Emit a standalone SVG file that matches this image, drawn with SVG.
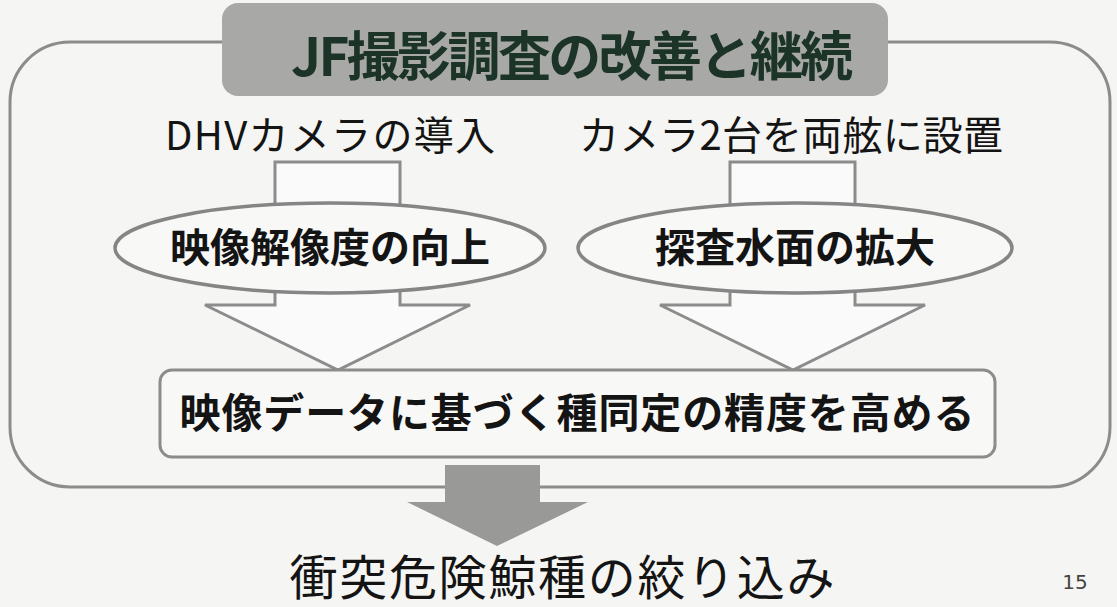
<svg xmlns="http://www.w3.org/2000/svg" width="1117" height="607" viewBox="0 0 1117 607">
<style>
.frame{fill:none;stroke:#8c8c8c;stroke-width:3}
.hollow{fill:#fafafa;stroke:#8c8c8c;stroke-width:3;stroke-linejoin:miter}
.ell{fill:#f8f8f7;stroke:#858585;stroke-width:3.5}
.t{font-family:"Noto Sans CJK JP","Noto Sans",sans-serif;fill:#141414}
.b{font-weight:bold}
</style>
<rect width="1117" height="607" fill="#f5f5f3"/>
<g id="frame">
<rect class="frame" x="10" y="42" width="1100" height="445" rx="60" ry="60"/>
</g>
<g id="title">
<rect x="222" y="3" width="666" height="93" rx="16" fill="#a8a9a7"/>
<text class="t b" x="572" y="76" font-size="53" text-anchor="middle" textLength="562" lengthAdjust="spacing" style="fill:#1c3428">JF撮影調査の改善と継続</text>
</g>
<g id="connectors">
<polygon class="hollow" points="275,162 400,162 400,305 470,305 338,370 205,305 275,305"/>
<polygon class="hollow" points="730,162 855,162 855,305 925,305 793,370 660,305 730,305"/>
<polygon points="445,465 540,465 540,502 588,502 497,546 407,502 445,502" fill="#999a98"/>
</g>
<g id="label-dhv">
<text class="t" x="165" y="150" font-size="40" textLength="330" lengthAdjust="spacing">DHVカメラの導入</text>
</g>
<g id="label-camera">
<text class="t" x="579" y="150" font-size="40" textLength="424" lengthAdjust="spacing">カメラ2台を両舷に設置</text>
</g>
<g id="node-resolution">
<ellipse class="ell" cx="330" cy="248" rx="215" ry="45"/>
<text class="t b" x="330" y="262" font-size="40" text-anchor="middle">映像解像度の向上</text>
</g>
<g id="node-area">
<ellipse class="ell" cx="795" cy="248" rx="217" ry="45"/>
<text class="t b" x="795" y="262" font-size="40" text-anchor="middle">探査水面の拡大</text>
</g>
<g id="node-accuracy">
<rect x="160" y="370" width="835" height="87" rx="12" fill="#f8f8f7" stroke="#8c8c8c" stroke-width="3"/>
<text class="t b" x="577" y="428" font-size="41" text-anchor="middle" textLength="795" lengthAdjust="spacing">映像データに基づく種同定の精度を高める</text>
</g>
<g id="result">
<text class="t" x="562" y="595" font-size="48" text-anchor="middle" textLength="545" lengthAdjust="spacing">衝突危険鯨種の絞り込み</text>
</g>
<g id="page">
<text x="1075" y="589" font-size="20" font-family="'DejaVu Sans',sans-serif" fill="#444" text-anchor="middle">15</text>
</g>
</svg>
